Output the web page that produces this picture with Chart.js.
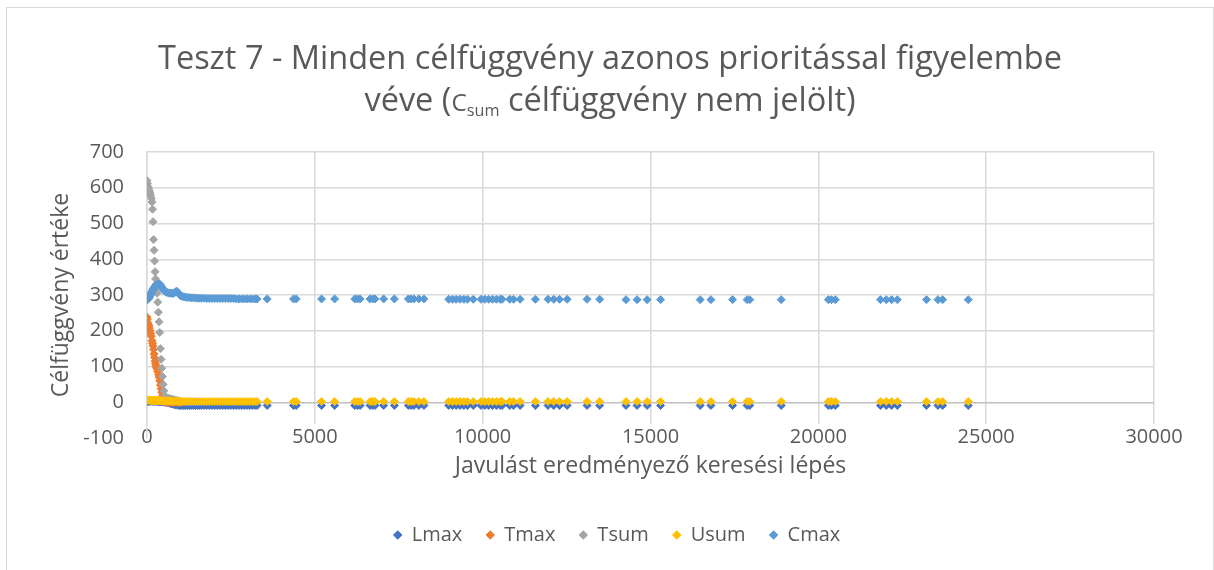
<!DOCTYPE html>
<html>
<head>
<meta charset="utf-8">
<script src="https://cdn.jsdelivr.net/npm/chart.js@4"></script>
<style>
  body { margin: 0; background: #fff; overflow: hidden; }
  #wrap { position: relative; width: 1214px; height: 570px; }
  #chart { position: absolute; left: 0; top: 0; }
  #frame { position: absolute; left: 6px; top: 7px; width: 1206px; height: 600px; border: 1px solid #d9d9d9; pointer-events: none; }
  #title { position: absolute; left: 6px; top: 36px; width: 1208px; text-align: center;
           font-family: "Open Sans", sans-serif; font-size: 32.5px; line-height: 42px; color: #595959; }
  #title .c { font-size: 0.75em; }
  #title sub { font-size: 0.5em; vertical-align: -0.3em; }
</style>
</head>
<body>
<div id="wrap">
  <canvas id="chart" width="1214" height="570"></canvas>
  <div id="title">Teszt 7 - Minden célfüggvény azonos prioritással figyelembe<br>véve (<span class="c">C</span><sub>sum</sub> célfüggvény nem jelölt)</div>
  <div id="frame"></div>
</div>
<script>
// javulást eredményező lépések (x)
const stepsStart = [
    0, 10, 25, 40, 55, 70, 90, 110, 130, 150,
    165, 180, 195, 210, 225, 240, 255, 270, 285, 300,
    320, 340, 360, 380, 400, 420, 440, 460, 480, 500,
    530, 560, 600, 640, 680, 720, 760, 800, 840, 880,
    920, 960, 1000
];
const stepsMid = [
    1050, 1100, 1150, 1200, 1260, 1320, 1380, 1440, 1500, 1560,
    1620, 1700, 1780, 1860, 1940, 2020, 2100, 2180, 2260, 2340,
    2420, 2500, 2580, 2660, 2740, 2820, 2900, 2980, 3060, 3140,
    3220, 3280
];
const stepsLate = [
    3580, 4366, 4446, 5200, 5590, 6190, 6270, 6350, 6646, 6726,
    6794, 7050, 7370, 7786, 7866, 7950, 8100, 8250, 8990, 9100,
    9210, 9325, 9440, 9550, 9720, 9950, 10066, 10180, 10294, 10408,
    10522, 10580, 10807, 10921, 11115, 11571, 11947, 12118, 12289, 12517,
    13110, 13486, 14270, 14600, 14900, 15300, 16480, 16800, 17444, 17878,
    17958, 18894, 20299, 20391, 20505, 21852, 22023, 22183, 22354, 23222,
    23565, 23702, 24467
];
const steps = [...stepsStart, ...stepsMid, ...stepsLate];

const lmax = [
    3, 3, 3, 3, 3, 3, 3, 3, 3, 3,
    3, 3, 3, 3, 3, 3, 3, 3, 3, 3,
    2, 2, 2, 2, 2, 2, 2, 1, 1, 1,
    0, 0, -1, -2, -3, -4, -5, -6, -7, -8,
    -8, -9, -9,
    -9, -9, -9, -9, -9, -9, -9, -9, -9, -9,
    -9, -9, -9, -9, -9, -9, -9, -9, -9, -9,
    -9, -9, -9, -9, -9, -9, -9, -9, -9, -9,
    -9, -9, -9, -9, -9, -9, -9, -9, -9, -9,
    -9, -9, -9, -9, -9, -9, -9, -9, -9, -9,
    -9, -9, -9, -9, -9, -9, -9, -9, -9, -9,
    -9, -9, -9, -9, -9, -9, -9, -9, -9, -9,
    -9, -9, -9, -9, -9, -9, -9, -9, -9, -9,
    -9, -9, -9, -9, -9, -9, -9, -9, -9, -9,
    -9, -9, -9, -9, -9
];
// Tmax és Tsum csak az elején tér el a nullától
const tmax = [
    238, 232, 222, 218, 214, 208, 200, 192, 185, 172,
    165, 158, 148, 135, 125, 115, 108, 102, 98, 94,
    86, 78, 70, 60, 48, 38, 28, 18, 9, 3,
    0, 0, 0, 0, 0, 0, 0, 0, 0, 0,
    0, 0, 0
];
const tsum = [
    620, 612, 604, 598, 594, 590, 585, 578, 570, 560,
    540, 505, 455, 425, 395, 365, 345, 330, 318, 305,
    280, 252, 225, 195, 150, 120, 95, 72, 50, 32,
    18, 14, 12, 11, 10, 9, 8, 7, 6, 5,
    4, 3, 2
];
const usum = [
    6, 6, 6, 6, 6, 6, 6, 5, 5, 5,
    5, 5, 5, 5, 5, 5, 5, 5, 5, 5,
    5, 5, 5, 5, 4, 4, 4, 4, 4, 4,
    4, 4, 4, 4, 3, 3, 3, 3, 3, 3,
    3, 2, 2,
    2, 2, 2, 2, 2, 2, 2, 2, 2, 2,
    2, 2, 2, 2, 2, 2, 2, 2, 2, 2,
    2, 2, 2, 2, 2, 2, 2, 2, 2, 2,
    2, 2, 2, 2, 2, 2, 2, 2, 2, 2,
    2, 2, 2, 2, 2, 2, 2, 2, 2, 2,
    2, 2, 2, 2, 2, 2, 2, 2, 2, 2,
    2, 2, 2, 2, 2, 2, 2, 2, 2, 2,
    2, 2, 2, 2, 2, 2, 2, 2, 2, 2,
    2, 2, 2, 2, 2, 2, 2, 2, 2, 2,
    2, 2, 2, 2, 2
];
const cmax = [
    288, 287, 288, 289, 291, 294, 298, 302, 306, 310,
    313, 316, 318, 320, 322, 324, 326, 327, 328, 329,
    330, 331, 331, 330, 328, 325, 322, 319, 316, 313,
    311, 309, 307, 306, 305, 305, 304, 305, 308, 311,
    307, 302, 298,
    296, 295, 294, 293, 293, 292, 292, 292, 291, 291,
    291, 291, 290, 290, 290, 290, 290, 290, 290, 290,
    290, 290, 290, 289, 289, 289, 289, 289, 289, 289,
    289, 289,
    289, 289, 289, 289, 289, 289, 289, 289, 289, 289,
    289, 289, 289, 289, 289, 289, 289, 289, 288, 288,
    288, 288, 288, 288, 288, 288, 288, 288, 288, 288,
    288, 288, 288, 288, 288, 288, 288, 288, 288, 288,
    288, 288, 287, 287, 287, 287, 287, 287, 287, 287,
    287, 287, 287, 287, 287, 287, 287, 287, 287, 287,
    287, 287, 287
];

function toPoints(values) {
    return values.map((v, i) => ({ x: steps[i], y: v }));
}

const gray = '#595959';
const gridColor = '#d9d9d9';

function series(label, values, color, order) {
    return {
        label: label,
        data: toPoints(values),
        backgroundColor: color,
        borderColor: color,
        pointStyle: 'rectRot',
        pointRadius: 4,
        pointBorderWidth: 1,
        pointHoverRadius: 4,
        showLine: false,
        order: order
    };
}

// the legend sits a bit right of the plot centre in the original
const legendShift = {
    id: 'legendShift',
    afterLayout(chart) {
        chart.legend.left += 40;
        chart.legend.right += 40;
    }
};

new Chart(document.getElementById('chart'), {
    type: 'scatter',
    data: {
        datasets: [
            series('Lmax', lmax, '#4472C4', 5),
            series('Tmax', tmax, '#ED7D31', 4),
            series('Tsum', tsum, '#A5A5A5', 3),
            series('Usum', usum, '#FFC000', 2),
            series('Cmax', cmax, '#5B9BD5', 1)
        ]
    },
    plugins: [legendShift],
    options: {
        responsive: false,
        animation: false,
        layout: { padding: { top: 152, right: 60, bottom: 15, left: 0 } },
        scales: {
            x: {
                type: 'linear',
                min: 0,
                max: 30000,
                afterFit: function (scale) { scale.height = 63; },
                ticks: {
                    stepSize: 5000,
                    mirror: true,   // labels sit up inside the plot, next to the 0 line
                    padding: -11,
                    color: gray,
                    font: { family: 'Open Sans', size: 20 },
                    showLabelBackdrop: true,
                    backdropColor: '#ffffff',
                    backdropPadding: 1,
                    callback: v => String(v)
                },
                grid: { color: gridColor, lineWidth: 1.5, drawTicks: false },
                border: { display: false },
                title: {
                    display: true,
                    text: 'Javulást eredményező keresési lépés',
                    color: gray,
                    font: { family: 'Open Sans', size: 23 },
                    padding: { top: 21, bottom: 21 }
                }
            },
            y: {
                min: -100,
                max: 700,
                afterFit: function (scale) { scale.width = 147; },
                ticks: {
                    stepSize: 100,
                    padding: 23,
                    color: gray,
                    font: { family: 'Open Sans', size: 20 }
                },
                grid: {
                    color: ctx => {
                        if (!ctx.tick) return gridColor;
                        if (ctx.tick.value === -100) return 'rgba(0,0,0,0)';
                        return ctx.tick.value === 0 ? '#bfbfbf' : gridColor;
                    },
                    lineWidth: 1.5,
                    drawTicks: false
                },
                border: { color: gridColor, width: 1.5 },
                title: {
                    display: true,
                    text: 'Célfüggvény értéke',
                    color: gray,
                    font: { family: 'Open Sans', size: 23 },
                    padding: { top: 48, bottom: 48 }
                }
            }
        },
        plugins: {
            legend: {
                position: 'bottom',
                labels: {
                    usePointStyle: true,
                    boxWidth: 8,
                    boxHeight: 6,
                    padding: 24,
                    color: gray,
                    font: { family: 'Open Sans', size: 20 },
                    sort: (a, b) => a.datasetIndex - b.datasetIndex
                }
            },
            tooltip: { enabled: false }
        }
    }
});
</script>
</body>
</html>
